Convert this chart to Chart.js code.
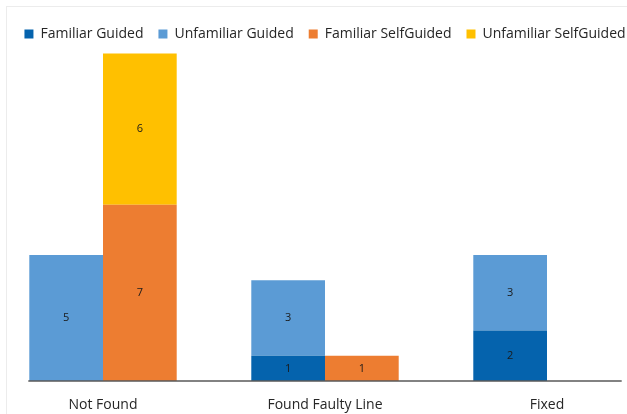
<!DOCTYPE html>
<html>
<head>
<meta charset="utf-8">
<script src="https://cdn.jsdelivr.net/npm/chart.js@4"></script>
<style>
  html, body { margin: 0; padding: 0; width: 627px; height: 414px; overflow: hidden; background: #fff; }
  .frame { position: absolute; left: 6px; top: 6px; width: 640px; height: 420px; border-top: 1px solid #ececec; border-left: 1px solid #ececec; }
  /* canvas is a bit wider and taller than the window so the plot sits like the original */
  .wrap { position: absolute; left: -8px; top: 0; width: 666px; height: 421px; }
</style>
</head>
<body>
<div class="frame"></div>
<div class="wrap"><canvas id="chart"></canvas></div>
<script>
// values
const categories = ['Not Found', 'Found Faulty Line', 'Fixed'];
const familiarGuided = [0, 1, 2];
const unfamiliarGuided = [5, 3, 3];
const familiarSelfGuided = [7, 1, 0];
const unfamiliarSelfGuided = [6, 0, 0];

// draw the number in the middle of each non-empty segment
const valueLabels = {
  id: 'valueLabels',
  afterDatasetsDraw(chart) {
    const ctx = chart.ctx;
    ctx.save();
    ctx.font = '11px "Open Sans"';
    ctx.fillStyle = '#1a1a1a';
    ctx.textAlign = 'center';
    ctx.textBaseline = 'middle';
    chart.data.datasets.forEach((ds, i) => {
      chart.getDatasetMeta(i).data.forEach((bar, j) => {
        const v = ds.data[j];
        if (!v) return;
        ctx.fillText(v, bar.x, (bar.y + bar.base) / 2);
      });
    });
    ctx.restore();
  }
};

// axis line only under the bars, like the original
const baseLine = {
  id: 'baseLine',
  afterDatasetsDraw(chart) {
    const first = chart.getDatasetMeta(0).data[0];
    const lastMeta = chart.getDatasetMeta(chart.data.datasets.length - 1);
    const last = lastMeta.data[lastMeta.data.length - 1];
    const y = chart.scales.y.getPixelForValue(0);
    const ctx = chart.ctx;
    ctx.save();
    ctx.strokeStyle = '#595959';
    ctx.lineWidth = 1.5;
    ctx.beginPath();
    ctx.moveTo(first.x - first.width / 2 - 1, y);
    ctx.lineTo(last.x + last.width / 2 + 1, y);
    ctx.stroke();
    ctx.restore();
  }
};

new Chart(document.getElementById('chart'), {
  type: 'bar',
  data: {
    labels: categories,
    datasets: [
      { label: 'Familiar Guided', data: familiarGuided, stack: 'guided', backgroundColor: '#0563ad' },
      { label: 'Unfamiliar Guided', data: unfamiliarGuided, stack: 'guided', backgroundColor: '#5b9bd5' },
      { label: 'Familiar SelfGuided', data: familiarSelfGuided, stack: 'self', backgroundColor: '#ed7d31' },
      { label: 'Unfamiliar SelfGuided', data: unfamiliarSelfGuided, stack: 'self', backgroundColor: '#ffc000' }
    ]
  },
  options: {
    responsive: true,
    maintainAspectRatio: false,
    animation: false,
    categoryPercentage: 0.664,
    barPercentage: 1,
    layout: { padding: { top: 12, bottom: 0 } },
    plugins: {
      legend: {
        labels: {
          boxWidth: 9,
          boxHeight: 9,
          padding: 15,
          color: '#262626',
          font: { family: 'Open Sans', size: 14 }
        }
      },
      tooltip: { enabled: false }
    },
    scales: {
      x: {
        grid: { display: false },
        border: { display: false },
        ticks: {
          padding: 7.6,
          color: '#262626',
          font: { family: 'Open Sans', size: 14 }
        }
      },
      y: {
        display: false,
        stacked: true,
        min: 0,
        max: 13.1
      }
    }
  },
  plugins: [valueLabels, baseLine]
});
</script>
</body>
</html>
